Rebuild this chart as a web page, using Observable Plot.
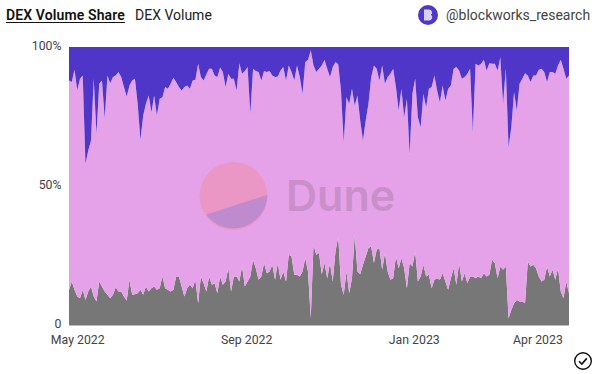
<!DOCTYPE html>
<html>
<head>
<meta charset="utf-8">
<script src="https://cdn.jsdelivr.net/npm/d3@7"></script>
<script src="https://cdn.jsdelivr.net/npm/@observablehq/plot@0.6"></script>
<style>
  html, body { margin: 0; padding: 0; background: #fff; }
  body { width: 598px; height: 374px; position: relative; overflow: hidden; font-family: "Roboto", sans-serif; }
  #head { position: relative; height: 30px; font-size: 14px; color: #222; }
  #head span { position: absolute; top: 7px; line-height: 17px; white-space: nowrap; }
  #tab1 { left: 6px; font-weight: 600; color: #111; letter-spacing: 0.12px; text-decoration: underline; text-underline-offset: 2px; }
  #tab2 { left: 135px; }
  #handle { left: 446px; color: #444; }
  .over { position: absolute; left: 0; top: 0; pointer-events: none; }
  #dune { position: absolute; left: 286px; top: 165px; font: 600 43px "Inter", sans-serif; color: #c98fca; pointer-events: none; line-height: 60px; }
</style>
</head>
<body>
<div id="head">
  <span id="tab1">DEX Volume Share</span>
  <span id="tab2">DEX Volume</span>
  <span id="handle">@blockworks_research</span>
</div>
<div id="chart"></div>
<svg class="over" width="598" height="374">
  <circle cx="233.5" cy="196" r="34" fill="#ea97c6"/>
  <path d="M206 214.5 L267.4 195 A34 34 0 0 1 206 214.5 Z" fill="#c08bce"/>
  <circle cx="428" cy="15" r="10" fill="#5235c9"/>
  <path d="M424 9.5 h5 a3 3 0 0 1 2 5.3 a3.2 3.2 0 0 1 -1.6 5.7 h-5.4 Z" fill="#d9d2f5"/>
  <circle cx="583" cy="361" r="8.3" fill="none" stroke="#111" stroke-width="1.4"/>
  <path d="M579 361.2 l2.8 2.8 l5 -5.6" fill="none" stroke="#111" stroke-width="1.6"/>
</svg>
<div id="dune">Dune</div>
<script>
const startDate = "2022-04-25";
const stepDays = 2;
const seriesNames = ["Other", "Main", "Rest"];
const seriesColors = ["#777777", "#e6a2e8", "#5035c9"];
const yTicks = [0, 50, 100];
const yTickLabels = ["0", "50%", "100%"];
const xTickDates = ["2022-05-01", "2022-09-01", "2023-01-01", "2023-04-01"];
const xTickLabels = ["May 2022", "Sep 2022", "Jan 2023", "Apr 2023"];

// Share at the bottom of the stack (grey), percent, one value every two days
const bottomShare = [
  12.8,15.8,12.8,10.4,9.8,12.8,9.2,12.2,14,10.4,
  8.6,15.8,14,12.2,11,9.8,11,13.7,12.2,12.2,
  10.4,8.9,16.4,11,11.2,11.6,12.8,11,14,12.2,
  13.4,14,12.8,13.4,17.6,13.4,12.8,12.2,12.8,17.6,
  17.6,14,10.4,13.4,14.6,13.4,16.4,8,17.6,15.2,
  12.2,17.6,14.6,15.2,11.6,17.6,14.6,15.8,20.6,12.2,17.6,

  17.6,15.8,21.2,14,15.8,17.6,23.6,20.6,16.4,17.6,
  22.4,18.8,19.4,21.8,16.4,22.4,16.4,19.4,15.8,25.4,
  24.8,18.2,18.2,17.6,19.4,24.2,19.4,2.6,29,25.4,
  26,18.4,22.4,17,22.4,15.8,26.6,32,14.6,11,
  19.4,11.6,17,32.6,19.4,18.4,21.8,24.8,27.8,28.4,
  22.4,27.2,27.8,20,26,19.4,16.4,17,24.8,20.6,24.2,

  20.6,13.4,22.4,21.2,26.6,15.8,17.6,21.8,17.6,18.2,
  13.4,16.4,17,16.4,18.8,15.8,12.8,17,20.6,14.6,
  22.4,15.8,18.8,15.2,17.6,17.6,17,17.6,17,18.8,
  17.6,18.2,23.6,22.4,17,21.2,20,21.2,2.6,5.6,
  8,9.2,8.6,8.6,8,23,21.2,21.8,20.6,17.6,
  15.8,16.4,21.2,17.6,20,16.4,20.6,12.2,9.8,15.8,11.6
];

// Share at the top of the stack (purple), percent, one value every two days
const topShare = [
  12,12.6,8.2,15.4,11.4,10.2,42,37.2,33.6,11.4,
  31.2,13.2,12,25.6,10.2,13,10.8,10.2,9,10.8,
  14.4,17.8,13.8,12,11.4,20.4,33.4,24.6,20.4,17.4,
  23.4,17.4,24.6,18.6,18,14.4,15,13.2,11,12.6,
  14.4,15.6,14.4,13.8,15,12,11.8,6,10.8,12,
  9.8,7.8,7.8,10.2,10.8,7.4,9,14.4,9.6,11.4,11.4,

  15.6,5.8,9.6,8.6,7.2,24,7.8,8.6,9,12,
  8.6,9,8.6,10.2,10.8,10.6,8.4,7.2,12,6.6,
  9,12,6.6,10.8,16.8,5.4,4.6,1.2,6.6,9,
  7.8,6.6,4.6,7.8,10.8,7.2,5.4,6.2,15.6,34.2,
  18,20.4,15,21,17.4,26.4,33.6,26.4,20.4,10.8,
  6.6,7.8,12,6.6,13.2,10.8,9.6,7.8,14.4,22.8,15,

  25.2,18.6,38.4,16.8,11.4,25.2,28.8,16.8,21.6,15,
  14.4,10.2,15.6,19.8,13.8,19.2,15,13.8,7.8,7.2,
  8.4,11.4,10.8,9.6,7.8,30.6,6,6.6,6,4.6,
  8.4,5.8,6,6,8.4,3.8,20.4,7.8,36,28.8,
  16.2,22.8,13.2,11.4,9.4,10.2,12.6,10.2,10.2,8.2,
  7.8,9,12.6,9,9,9.6,6.6,4.6,7.8,11.4,10.2
];

const start = new Date(startDate + "T00:00:00Z");
const rows = [];
bottomShare.forEach((b, i) => {
  const date = d3.utcDay.offset(start, i * stepDays);
  const t = topShare[i];
  rows.push({date, series: seriesNames[0], share: b});
  rows.push({date, series: seriesNames[1], share: 100 - b - t});
  rows.push({date, series: seriesNames[2], share: t});
});

const xTicks = xTickDates.map(d => new Date(d + "T00:00:00Z"));

const plot = Plot.plot({
  width: 598,
  height: 344,
  marginTop: 17,
  marginBottom: 48.5,
  marginLeft: 69,
  marginRight: 29,
  style: {fontFamily: "Roboto, sans-serif", fontSize: "12.3px", color: "#444", background: "transparent"},
  x: {type: "utc", domain: d3.extent(rows, d => d.date)},
  y: {domain: [0, 100]},
  color: {domain: seriesNames, range: seriesColors},
  marks: [
    Plot.areaY(rows, {x: "date", y: "share", z: "series", fill: "series", order: seriesNames, curve: "linear"}),
    Plot.axisX({ticks: xTicks, tickSize: 0, tickPadding: 9, label: null,
      tickFormat: d => xTickLabels[xTicks.findIndex(t => +t === +d)]}),
    Plot.axisY({ticks: yTicks, tickSize: 0, tickPadding: 8, dy: -1.5, label: null,
      tickFormat: d => yTickLabels[yTicks.indexOf(d)]})
  ]
});
document.getElementById("chart").appendChild(plot);
</script>
</body>
</html>
